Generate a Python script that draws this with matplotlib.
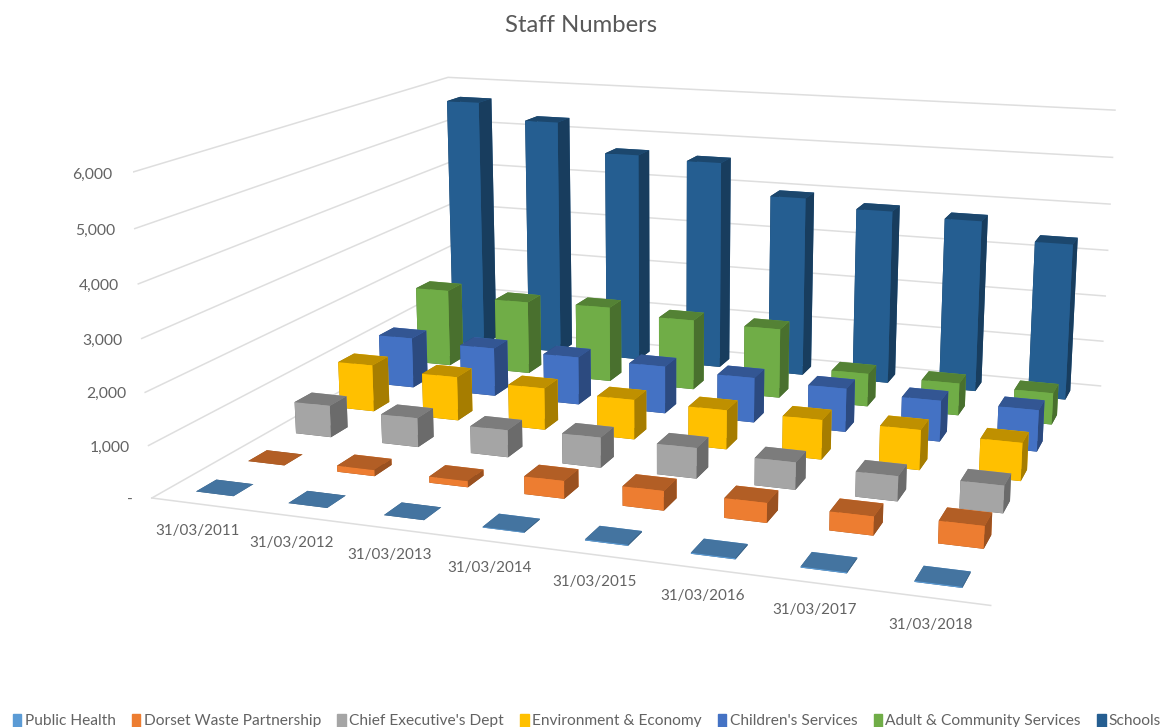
import numpy as np
import matplotlib
matplotlib.use("Agg")
import matplotlib.pyplot as plt
from matplotlib.colors import to_rgb
from matplotlib.patches import Patch
from mpl_toolkits.mplot3d import proj3d

plt.rcParams['font.family'] = ['Lato', 'DejaVu Sans']

dates = ["31/03/2011", "31/03/2012", "31/03/2013", "31/03/2014",
         "31/03/2015", "31/03/2016", "31/03/2017", "31/03/2018"]
names = ["Public Health", "Dorset Waste Partnership", "Chief Executive's Dept",
         "Environment & Economy", "Children's Services",
         "Adult & Community Services", "Schools"]
colors = ["#5B9BD5", "#ED7D31", "#A5A5A5", "#FFC000", "#4472C4", "#70AD47", "#255E91"]

public_health = [0, 0, 0, 15, 20, 20, 20, 20]
dorset_waste = [0, 120, 120, 340, 370, 370, 350, 410]
chief_exec = [650, 590, 545, 600, 600, 530, 480, 520]
environment = [985, 915, 865, 815, 795, 795, 795, 745]
childrens = [1090, 1040, 1020, 1000, 940, 900, 840, 840]
adult = [1710, 1605, 1645, 1525, 1495, 705, 680, 660]
schools = [5650, 5300, 4670, 4610, 3950, 3790, 3710, 3350]
series = [public_health, dorset_waste, chief_exec, environment, childrens, adult, schools]
z_ticks = [0, 1000, 2000, 3000, 4000, 5000, 6000]

W, H = 1161, 727
fig = plt.figure(figsize=(W / 100, H / 100), dpi=100)
ax = fig.add_axes([132.78 / W, -97.81 / H, 1040.47 / W, 1040.47 / H], projection='3d')
ax.view_init(elev=13.744, azim=-70.8052)
ax.set_box_aspect((1, 0.8455, 0.3919))
ax.set_proj_type('persp', focal_length=0.3624)
ax.set_axis_off()
ax.patch.set_alpha(0)
ax.computed_zorder = False

grid_col = "#DEDEDE"
for z in z_ticks:
    ax.plot([0, 0, 8], [0, 7, 7], [z, z, z], color=grid_col, lw=1.1, zorder=1)
ax.plot([0, 8], [0, 0], [0, 0], color=grid_col, lw=1.1, zorder=1)

bar_w = 0.41
bar_d = 0.38
# draw back to front, left to right, so nearer bars cover the far ones
order = 2
for j in range(len(series) - 1, -1, -1):
    base = np.array(to_rgb(colors[j]))
    # bar3d face order: bottom, top, front, back, left, right
    face = [base * 0.6, base * 0.75, base, base, base * 0.65, base * 0.65]
    for i in range(len(dates)):
        ax.bar3d(i + 0.5 - bar_w / 2, j + 0.5 - bar_d / 2, 0, bar_w, bar_d, series[j][i],
                 color=face, shade=False, linewidth=0, zorder=order)
        order += 1
ax.set_xlim(0, 8)
ax.set_ylim(0, 7)
ax.set_zlim(0, 6000)

M = ax.get_proj()
text_col = "#636363"
for i, d in enumerate(dates):
    vx, vy, _ = proj3d.proj_transform(i + 0.5, 0, 0, M)
    ax.annotate(d, (vx, vy), xytext=(0, -27), textcoords='offset pixels', ha='center', va='center',
                fontsize=10.9, color=text_col, annotation_clip=False)
for z in z_ticks:
    vx, vy, _ = proj3d.proj_transform(0, 0, z, M)
    lab = f"{z:,}" if z else "-"
    ax.annotate(lab, (vx, vy), xytext=(-19, -2), textcoords='offset pixels', ha='right', va='center',
                fontsize=11.3, color=text_col, annotation_clip=False)

fig.text(581 / W, 1 - 25 / H, "Staff Numbers", ha='center', va='center', fontsize=17.2, color="#595959")
handles = [Patch(color=c, label=n) for c, n in zip(colors, names)]
fig.legend(handles=handles, ncol=7, loc='center', bbox_to_anchor=(587 / W, 1 - 721 / H), frameon=False,
           fontsize=11.2, handlelength=0.55, handleheight=0.9, handletextpad=0.2, columnspacing=1.055,
           labelcolor=text_col, borderpad=0)

fig.savefig("out.png", dpi=100)
